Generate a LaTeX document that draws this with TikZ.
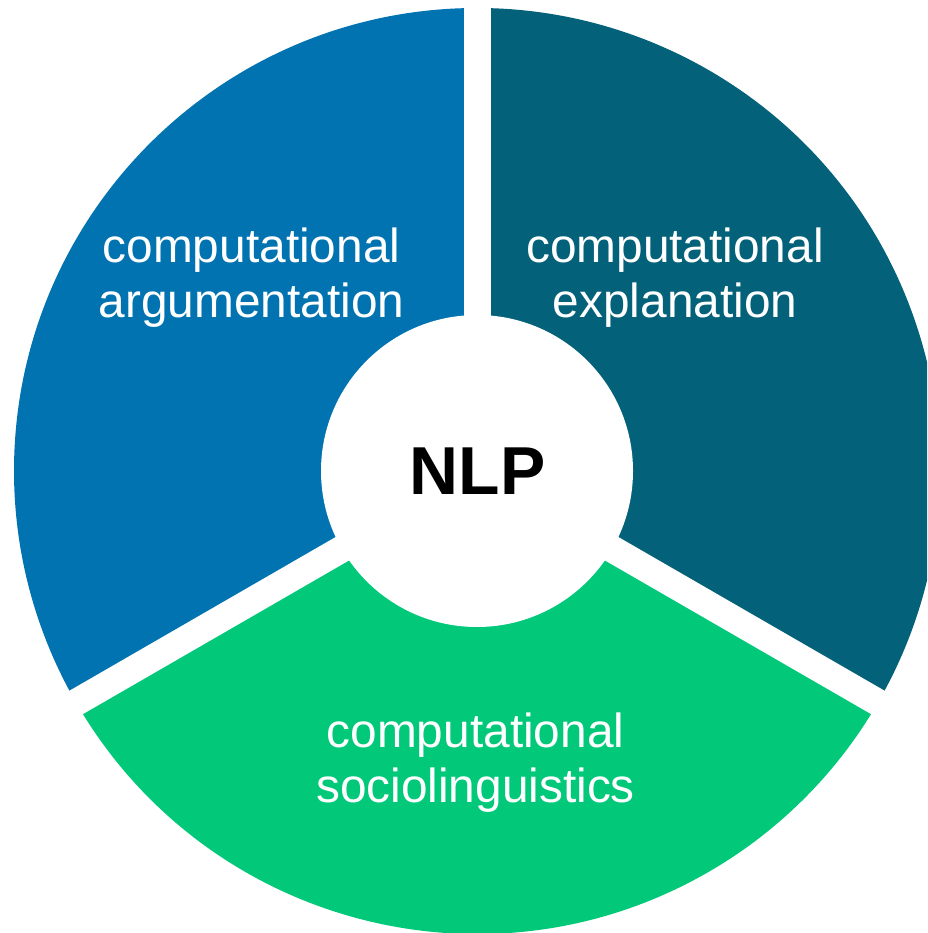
\documentclass[tikz,border=0pt]{standalone}
\usepackage{fontspec}
\setmainfont{Liberation Sans}
\definecolor{segblue}{RGB}{0,115,176}
\definecolor{segteal}{RGB}{4,97,122}
\definecolor{seggreen}{RGB}{2,201,122}
\begin{document}
\begin{tikzpicture}[
  label/.style={text=white, font=\fontsize{13.6}{15}\selectfont, anchor=base, inner sep=0pt},
  hub/.style={font=\fontsize{19.3}{22}\bfseries\selectfont, text=black, anchor=base, inner sep=0pt},
  gapband/.style={white, line width=0.27cm}
]
\useasboundingbox (0,0) rectangle (9.27,9.33);
\clip (0,0) rectangle (9.27,9.33);
\coordinate (c) at (4.77,4.62);
% three ring segments
\fill[segblue]  (c) -- ++(90:4.63cm)  arc[start angle=90,  end angle=210, radius=4.63cm] -- cycle;
\fill[seggreen] (c) -- ++(210:4.63cm) arc[start angle=210, end angle=330, radius=4.63cm] -- cycle;
\fill[segteal]  (c) -- ++(330:4.63cm) arc[start angle=330, end angle=450, radius=4.63cm] -- cycle;
% white separators and hub
\draw[gapband] (c) -- ++(90:5.2cm);
\draw[gapband] (c) -- ++(210:5.2cm);
\draw[gapband] (c) -- ++(330:5.2cm);
\fill[white] (c) circle[radius=1.56cm];
% labels
\node[hub] (nlp) at (4.775,4.38) {NLP};
\node[label] (argA) at (2.515,6.70) {computational};
\node[label] (argB) at (2.515,6.15) {argumentation};
\node[label] (expA) at (6.75,6.70) {computational};
\node[label] (expB) at (6.75,6.15) {explanation};
\node[label] (socA) at (4.755,1.85) {computational};
\node[label] (socB) at (4.755,1.30) {sociolinguistics};
\end{tikzpicture}
\end{document}
